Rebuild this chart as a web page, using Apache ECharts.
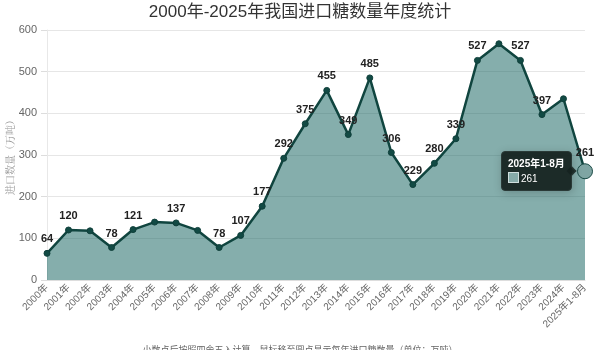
<!DOCTYPE html>
<html>
<head>
<meta charset="utf-8">
<script src="https://cdn.jsdelivr.net/npm/echarts@6/dist/echarts.min.js"></script>
<style>html,body{margin:0;padding:0;background:#fff}#c{width:600px;height:350px}</style>
</head>
<body>
<div id="c"></div>
<script>
var categories = ['2000年','2001年','2002年','2003年','2004年','2005年','2006年','2007年','2008年','2009年','2010年','2011年','2012年','2013年','2014年','2015年','2016年','2017年','2018年','2019年','2020年','2021年','2022年','2023年','2024年','2025年1-8月'];
var imports = [64,120,118,78,121,139,137,119,78,107,177,292,375,455,349,485,306,229,280,339,527,567,527,397,435,261];
var hiddenLabels = ['2002年','2005年','2007年','2021年','2024年'];
var yTicks = [0,100,200,300,400,500,600];
var titleText = '2000年-2025年我国进口糖数量年度统计';
var noteText = '小数点后按照四舍五入计算，鼠标移至圆点显示每年进口糖数量（单位：万吨）';
var yName = '进口数量（万吨）';

var chart = echarts.init(document.getElementById('c'));
var seriesData = imports.map(function (v, i) {
  var d = { value: v };
  if (hiddenLabels.indexOf(categories[i]) >= 0) d.label = { show: false };
  return d;
});
chart.setOption({
  animation: false,
  textStyle: { fontFamily: 'Liberation Sans, Arial, Noto Sans CJK SC, sans-serif' },
  title: [
    { text: titleText, left: 'center', top: -1, textStyle: { fontSize: 17, fontWeight: 'normal', color: '#333' } },
    { text: noteText, left: 'center', top: 341, textStyle: { fontSize: 9, fontWeight: 'normal', color: '#666' } }
  ],
  tooltip: {
    trigger: 'item',
    position: 'left',
    backgroundColor: 'rgba(22,36,33,0.95)',
    borderColor: '#2a3a37',
    borderWidth: 1,
    padding: [4, 6],
    textStyle: { color: '#fff', fontSize: 10 },
    formatter: function (p) {
      return '<div style="font-weight:bold;line-height:15px;font-size:10px">' + p.name + '</div>' +
        '<div style="line-height:15px;font-size:10px"><span style="display:inline-block;width:9px;height:9px;background:#86aba9;border:1px solid #cfdedd;vertical-align:-1px;margin-right:2px"></span>' + p.value + '</div>';
    }
  },
  grid: { left: 47, right: 15, top: 30, bottom: 70, outerBoundsMode: 'none', containLabel: false },
  xAxis: {
    type: 'category',
    data: categories,
    boundaryGap: false,
    axisLine: { lineStyle: { color: '#ddd' } },
    axisTick: { show: false },
    axisLabel: { rotate: 45, fontSize: 10, color: '#666', interval: 0, margin: 6 }
  },
  yAxis: {
    type: 'value',
    min: yTicks[0],
    max: yTicks[yTicks.length - 1],
    interval: yTicks[1] - yTicks[0],
    name: yName,
    nameLocation: 'middle',
    nameGap: 32,
    nameMoveOverlap: false,
    nameRotate: 90,
    nameTextStyle: { color: '#999', fontSize: 10, fontFamily: 'Noto Serif CJK SC, serif' },
    axisLine: { show: true, lineStyle: { color: '#e8e8e8' } },
    axisTick: { show: true, length: 6, lineStyle: { color: '#ddd' } },
    axisLabel: { fontSize: 11, color: '#666', margin: 10 },
    splitLine: { lineStyle: { color: '#e6e6e6' } }
  },
  series: [{
    type: 'line',
    data: seriesData,
    symbol: 'circle',
    symbolSize: 6,
    lineStyle: { color: '#0f3f3a', width: 2.5 },
    itemStyle: { color: '#124a44', borderColor: '#0f3f3a', borderWidth: 1 },
    areaStyle: { color: '#0b5551', opacity: 0.5 },
    label: { show: true, position: 'top', distance: 5, fontSize: 11, fontWeight: 'bold', color: '#222' },
    emphasis: {
      scale: 2.5,
      focus: 'none',
      lineStyle: { width: 2.5 },
      itemStyle: { color: '#7fa5a3', borderColor: '#1a4a45', borderWidth: 1 }
    }
  }]
});
var last = imports.length - 1;
chart.dispatchAction({ type: 'highlight', seriesIndex: 0, dataIndex: last });
chart.dispatchAction({ type: 'showTip', seriesIndex: 0, dataIndex: last });
</script>
</body>
</html>
